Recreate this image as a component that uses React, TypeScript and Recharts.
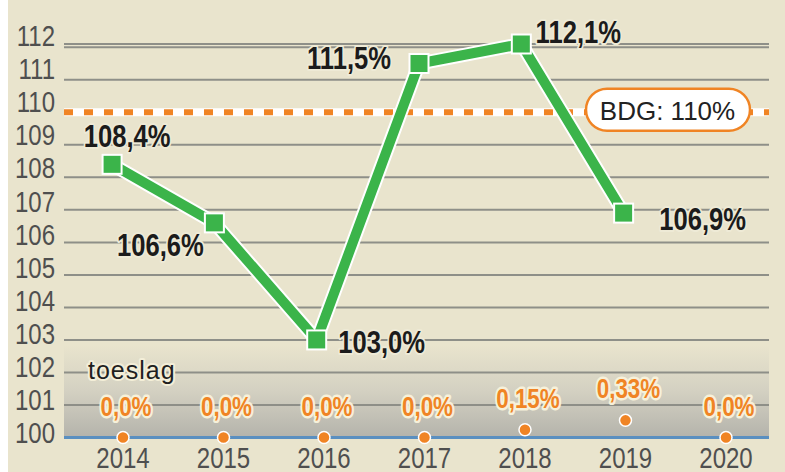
import React from 'react';
import {
  ComposedChart,
  Line,
  XAxis,
  YAxis,
  CartesianGrid,
  ReferenceLine,
} from 'recharts';

// ---------- data ----------
const years = [2014, 2015, 2016, 2017, 2018, 2019, 2020];
const fundingRatio: (number | null)[] = [108.4, 106.6, 103.0, 111.5, 112.1, 106.9, null];
const fundingLabels = ['108,4%', '106,6%', '103,0%', '111,5%', '112,1%', '106,9%', ''];
const indexation = [0, 0, 0, 0, 0.15, 0.33, 0];
const indexationLabels = ['0,0%', '0,0%', '0,0%', '0,0%', '0,15%', '0,33%', '0,0%'];
const yTicks = [100, 101, 102, 103, 104, 105, 106, 107, 108, 109, 110, 111, 112];
const requiredRatio = 110;
const requiredLabel = 'BDG: 110%';
const indexationTitle = 'toeslag';

// ---------- layout / style ----------
const FONT = "'Liberation Sans', Arial, sans-serif";
const NARROW = 0.8;
const BG = '#E9E4CD';
const GREEN = '#3BB44A';
const ORANGE = '#F08424';
const BLUE = '#5A8FC0';
const GRID = '#8E8F88';
const X_LABEL_BASELINE = 468;
// label offsets relative to each point (dx, dy)
const ratioLabelOffset: [number, number][] = [
  [15, -17],
  [-54, 33],
  [65, 13],
  [-70, 5],
  [57, -1],
  [79, 17],
];

const data = years.map((year, i) => ({
  year,
  ratio: fundingRatio[i],
  ratioLabel: fundingLabels[i],
  toeslag: indexation[i],
  toeslagLabel: indexationLabels[i],
}));

const YTick = (props: any) => {
  const { x, y, payload } = props;
  const v = Number(payload.value);
  const dy = -1 + (112 - v) * 0.54;
  return (
    <text
      transform={`translate(${x},${y + dy}) scale(${NARROW},1)`}
      textAnchor="end"
      fontSize={30}
      fontFamily={FONT}
      fill="#4f4f4f"
    >
      {payload.value}
    </text>
  );
};

const XTick = (props: any) => {
  const { x, payload } = props;
  return (
    <text
      transform={`translate(${x},${X_LABEL_BASELINE}) scale(${NARROW},1)`}
      textAnchor="middle"
      fontSize={30}
      fontFamily={FONT}
      fill="#4f4f4f"
    >
      {payload.value}
    </text>
  );
};

const RatioDot = (props: any) => {
  const { cx, cy, index, payload } = props;
  if (cx == null || cy == null || payload == null || payload.ratio == null) {
    return <g key={`rd-${index}`} />;
  }
  const [dx, dy] = ratioLabelOffset[index] || [0, -20];
  return (
    <g key={`rd-${index}`}>
      <rect
        x={cx - 9.5}
        y={cy - 9.5}
        width={19}
        height={19}
        fill={GREEN}
        stroke="#ffffff"
        strokeWidth={2}
      />
      <text
        transform={`translate(${cx + dx},${cy + dy}) scale(${NARROW},1)`}
        textAnchor="middle"
        fontSize={32}
        fontWeight="bold"
        fontFamily={FONT}
        fill="#1b1b1b"
        stroke="#EEEAD6"
        strokeWidth={4}
        strokeLinejoin="round"
        paintOrder="stroke"
      >
        {payload.ratioLabel}
      </text>
    </g>
  );
};

const ToeslagDot = (props: any) => {
  const { cx, cy, index, payload } = props;
  if (cx == null || cy == null || payload == null) return <g key={`td-${index}`} />;
  return (
    <g key={`td-${index}`}>
      <circle cx={cx} cy={cy} r={6} fill={ORANGE} stroke="#ffffff" strokeWidth={1.5} />
      <text
        transform={`translate(${cx + 3},${cy - 22}) scale(${NARROW},1)`}
        textAnchor="middle"
        fontSize={28}
        fontWeight="bold"
        fontFamily={FONT}
        fill={ORANGE}
        stroke="#F6F1DA"
        strokeWidth={5}
        strokeLinejoin="round"
        paintOrder="stroke"
      >
        {payload.toeslagLabel}
      </text>
    </g>
  );
};

const renderBdg = (props: any) => {
  const vb = props.viewBox || {};
  const right = (vb.x || 0) + (vb.width || 0);
  const cy = vb.y || 0;
  return (
    <g>
      <rect
        x={right - 183}
        y={cy - 23.5}
        width={164}
        height={42}
        rx={21}
        ry={21}
        fill="#ffffff"
        stroke={ORANGE}
        strokeWidth={2.5}
      />
      <text
        x={right - 101.5}
        y={cy + 7.5}
        textAnchor="middle"
        fontSize={26}
        fontFamily={FONT}
        fill="#222222"
      >
        {requiredLabel}
      </text>
    </g>
  );
};

const renderToeslagTitle = (props: any) => {
  const vb = props.viewBox || {};
  return (
    <text
      x={(vb.x || 0) + 24}
      y={(vb.y || 0) - 59}
      fontSize={25}
      letterSpacing={1}
      fontFamily={FONT}
      fill="#1f1f1f"
      stroke="#F3EED8"
      strokeWidth={4}
      strokeLinejoin="round"
      paintOrder="stroke"
    >
      {indexationTitle}
    </text>
  );
};

export default function App() {
  return (
    <div style={{ position: 'absolute', left: 8, top: 0, width: 777, height: 472 }}>
      <svg width={0} height={0} style={{ position: 'absolute' }}>
        <defs>
          <linearGradient id="bandGrad" x1="0" y1="0" x2="0" y2="1">
            <stop offset="0" stopColor={BG} />
            <stop offset="0.765" stopColor={BG} />
            <stop offset="0.88" stopColor="#D4D1C2" />
            <stop offset="1" stopColor="#B4B3AB" />
          </linearGradient>
        </defs>
      </svg>
      <ComposedChart
        width={777}
        height={472}
        data={data}
        margin={{ top: 44, right: 16, bottom: 0, left: 0 }}
        style={{ background: BG, fontFamily: FONT }}
      >
        <XAxis
          xAxisId="main"
          dataKey="year"
          type="number"
          domain={[2013.413, 2020.428]}
          ticks={years}
          interval={0}
          axisLine={false}
          tickLine={false}
          tickSize={0}
          tickMargin={0}
          height={34.5}
          tick={<XTick />}
        />
        <XAxis
          xAxisId="line"
          dataKey="year"
          type="number"
          domain={[2013.53, 2020.421]}
          hide
        />
        <YAxis
          yAxisId="pct"
          type="number"
          domain={[100, 112]}
          ticks={yTicks}
          interval={0}
          axisLine={false}
          tickLine={false}
          tickSize={0}
          tickMargin={9}
          width={56}
          tick={<YTick />}
        />
        <YAxis yAxisId="toe" type="number" domain={[0, 7.567]} hide />
        <CartesianGrid
          xAxisId="main"
          yAxisId="pct"
          vertical={false}
          stroke={GRID}
          strokeWidth={2}
          fill="url(#bandGrad)"
          fillOpacity={1}
        />
        <ReferenceLine
          xAxisId="main"
          yAxisId="pct"
          y={requiredRatio}
          stroke="#ffffff"
          strokeWidth={8}
        />
        <ReferenceLine
          xAxisId="main"
          yAxisId="pct"
          y={requiredRatio}
          stroke={ORANGE}
          strokeWidth={6}
          strokeDasharray="9 11"
          label={renderBdg}
        />
        <ReferenceLine
          xAxisId="main"
          yAxisId="pct"
          y={100}
          stroke={BLUE}
          strokeWidth={3}
          label={renderToeslagTitle}
        />
        <Line
          xAxisId="line"
          yAxisId="pct"
          dataKey="ratio"
          type="linear"
          stroke="#ffffff"
          strokeWidth={14}
          strokeLinejoin="round"
          dot={false}
          activeDot={false}
          isAnimationActive={false}
        />
        <Line
          xAxisId="line"
          yAxisId="pct"
          dataKey="ratio"
          type="linear"
          stroke={GREEN}
          strokeWidth={10}
          strokeLinejoin="round"
          dot={RatioDot}
          activeDot={false}
          isAnimationActive={false}
        />
        <Line
          xAxisId="main"
          yAxisId="toe"
          dataKey="toeslag"
          type="linear"
          stroke="none"
          dot={ToeslagDot}
          activeDot={false}
          isAnimationActive={false}
        />
      </ComposedChart>
    </div>
  );
}
